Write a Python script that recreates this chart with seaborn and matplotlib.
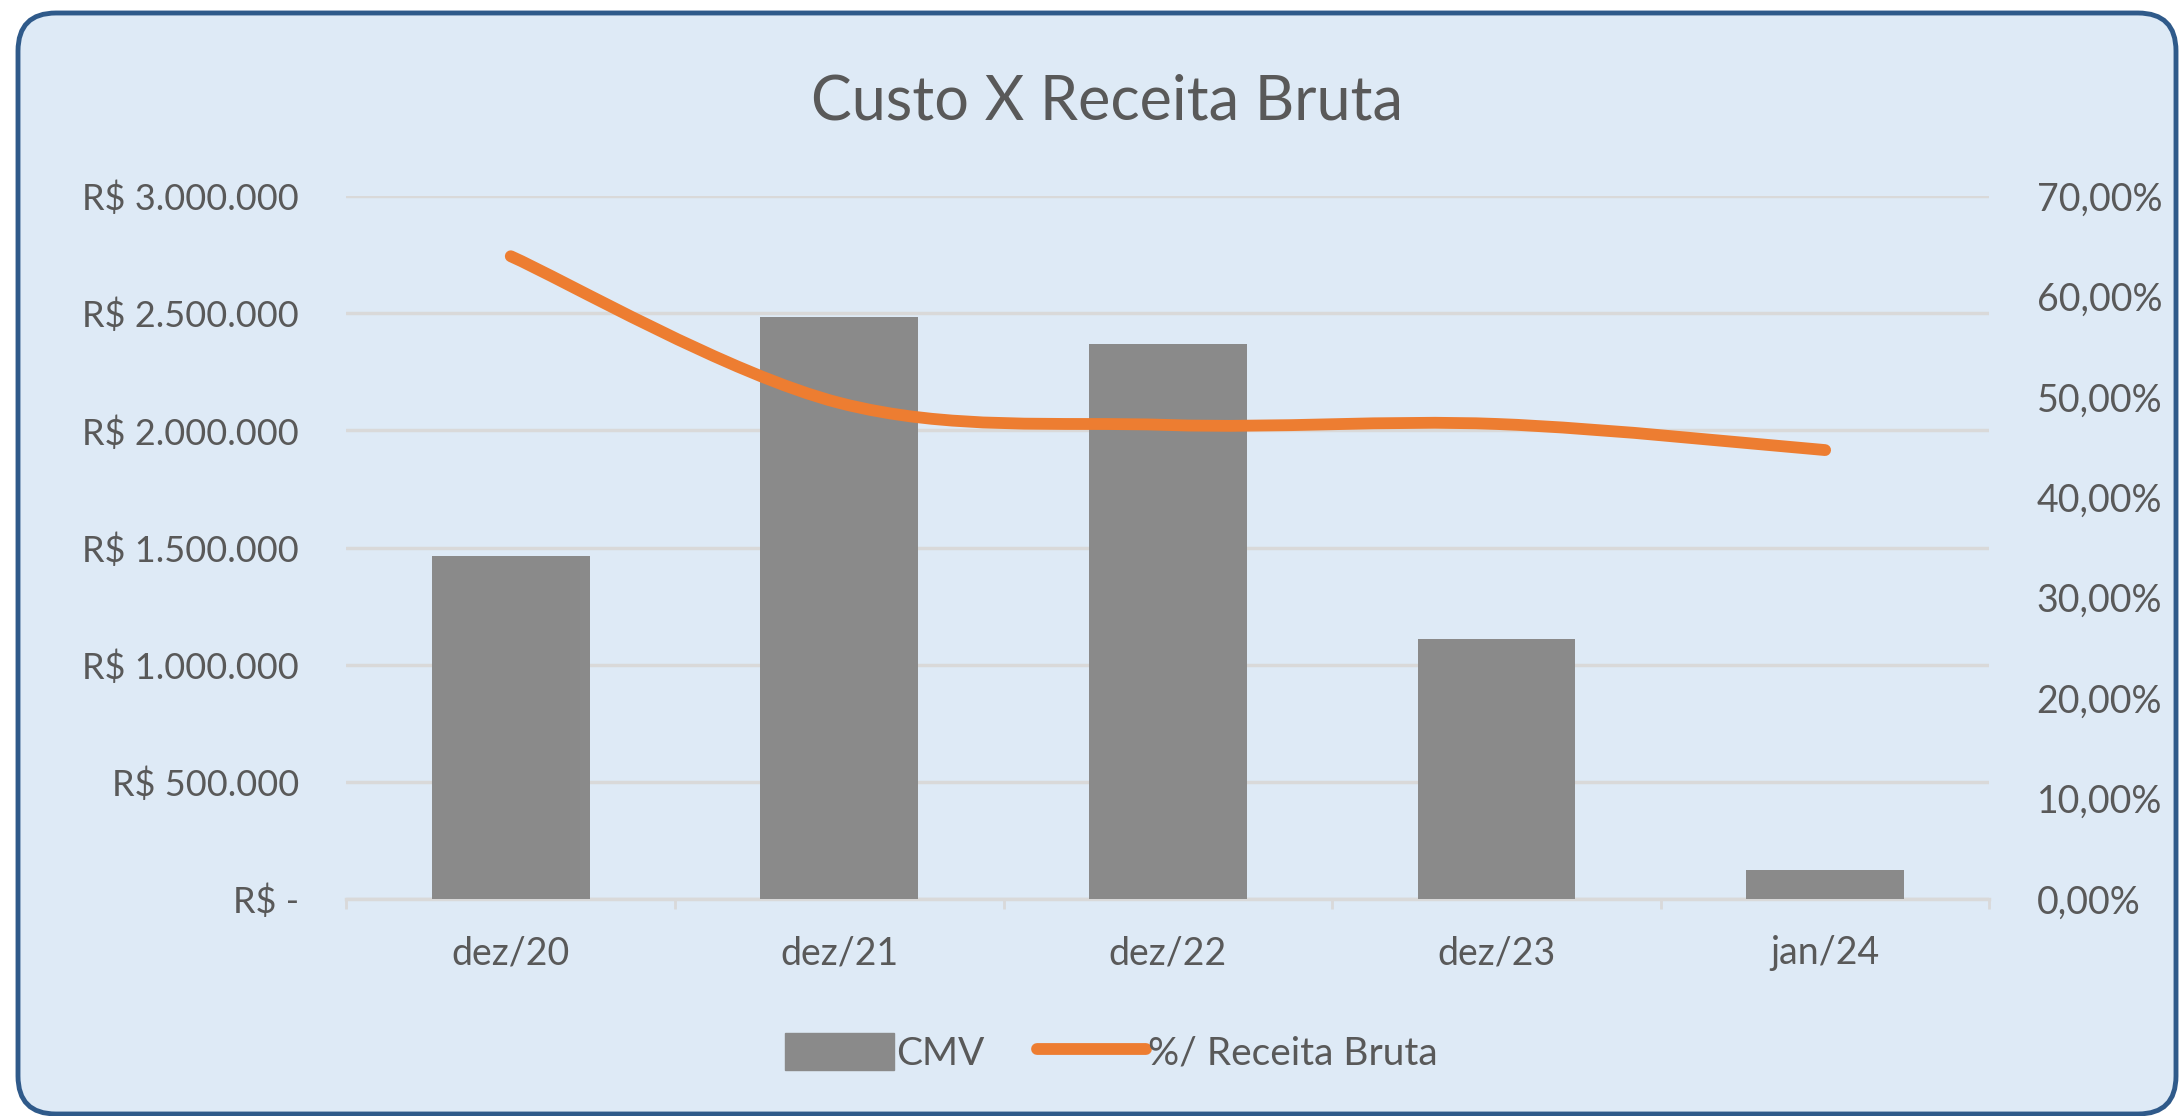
import numpy as np
import pandas as pd
import matplotlib
matplotlib.use('Agg')
import matplotlib.pyplot as plt
import seaborn as sns
from matplotlib.path import Path
from matplotlib.patches import PathPatch, FancyBboxPatch, Patch
from matplotlib.lines import Line2D
from matplotlib.transforms import IdentityTransform
from matplotlib.ticker import FuncFormatter, FixedLocator

# Data
categories = ['dez/20', 'dez/21', 'dez/22', 'dez/23', 'jan/24']
cmv = [1465000, 2485000, 2367000, 1109000, 125000]
pct_receita = [0.640, 0.494, 0.472, 0.473, 0.447]

BG = '#DEEAF6'
BAR = '#8A8A8A'
LINE = '#ED7D31'
GRID = '#D9D9D9'
TXT = '#595959'

sns.set_theme(style='white')
plt.rcParams['font.family'] = ['Lato', 'DejaVu Sans']

fig = plt.figure(figsize=(21.79, 11.16), dpi=100, facecolor='white')

# rounded chart frame
frame = FancyBboxPatch((18, 2), 2158, 1101, boxstyle='round,pad=0,rounding_size=38',
                       transform=IdentityTransform(), facecolor=BG,
                       edgecolor='#2F5A8A', linewidth=3.5, zorder=0)
fig.add_artist(frame)

ax = fig.add_axes([0.159, 0.1944, 0.754, 0.63])
ax.set_facecolor('none')

df = pd.DataFrame({'Mes': categories, 'CMV': cmv})
sns.barplot(data=df, x='Mes', y='CMV', color=BAR, saturation=1, width=0.48,
            linewidth=0, ax=ax, zorder=3)

ax.set_xlim(-0.5, len(categories) - 0.5)
ax.set_ylim(0, 3000000)
ax.set_yticks(np.arange(0, 3000001, 500000))
ax.yaxis.set_major_formatter(FuncFormatter(
    lambda v, p: 'R$ -' if v == 0 else 'R$ ' + f'{v:,.0f}'.replace(',', '.')))
ax.grid(axis='y', color=GRID, linewidth=2.5, zorder=0)
ax.set_axisbelow(True)
ax.set_xlabel('')
ax.set_ylabel('')
for s in ['top', 'left', 'right']:
    ax.spines[s].set_visible(False)
ax.spines['bottom'].set_color(GRID)
ax.spines['bottom'].set_linewidth(2.5)
ax.xaxis.set_minor_locator(FixedLocator(np.arange(-0.5, len(categories), 1.0)))
ax.tick_params(axis='x', which='major', length=0, pad=26, labelsize=27, labelcolor=TXT)
ax.tick_params(axis='x', which='minor', length=7, width=2, color=GRID, bottom=True)
ax.tick_params(axis='y', length=0, pad=34, labelsize=26, labelcolor=TXT)

ax2 = ax.twinx()
ax2.set_ylim(0, 0.70)
ax2.set_yticks(np.arange(0, 0.701, 0.10))
ax2.yaxis.set_major_formatter(FuncFormatter(
    lambda v, p: f'{v * 100:.2f}%'.replace('.', ',')))
ax2.tick_params(axis='y', length=0, pad=34, labelsize=27, labelcolor=TXT)
for s in ax2.spines.values():
    s.set_visible(False)
ax2.grid(False)

# smoothed line (Excel-style Catmull-Rom through the data points)
xs = np.arange(len(pct_receita), dtype=float)
ys = np.array(pct_receita)
pts = np.column_stack([xs, ys])
ext = np.vstack([pts[0], pts, pts[-1]])
verts = [tuple(pts[0])]
codes = [Path.MOVETO]
for i in range(len(pts) - 1):
    p0, p1, p2, p3 = ext[i], ext[i + 1], ext[i + 2], ext[i + 3]
    c1 = p1 + (p2 - p0) / 6
    c2 = p2 - (p3 - p1) / 6
    verts += [tuple(c1), tuple(c2), tuple(p2)]
    codes += [Path.CURVE4] * 3
ax2.add_patch(PathPatch(Path(verts, codes), facecolor='none', edgecolor=LINE,
                        linewidth=8.5, capstyle='round', zorder=4))

fig.text(0.508, 0.909, 'Custo X Receita Bruta', ha='center', va='center',
         fontsize=44, color=TXT)

handles = [Patch(facecolor=BAR, edgecolor=BAR),
           Line2D([0], [0], color=LINE, linewidth=8.5, solid_capstyle='round')]
fig.legend(handles, ['CMV', '%/ Receita Bruta'], loc='center',
           bbox_to_anchor=(0.51, 0.057), ncol=2, frameon=False, fontsize=28,
           labelcolor=TXT, handlelength=2.8, handleheight=1.1, handletextpad=0.05,
           columnspacing=1.35)

fig.savefig('out.png', dpi=100, facecolor='white')
